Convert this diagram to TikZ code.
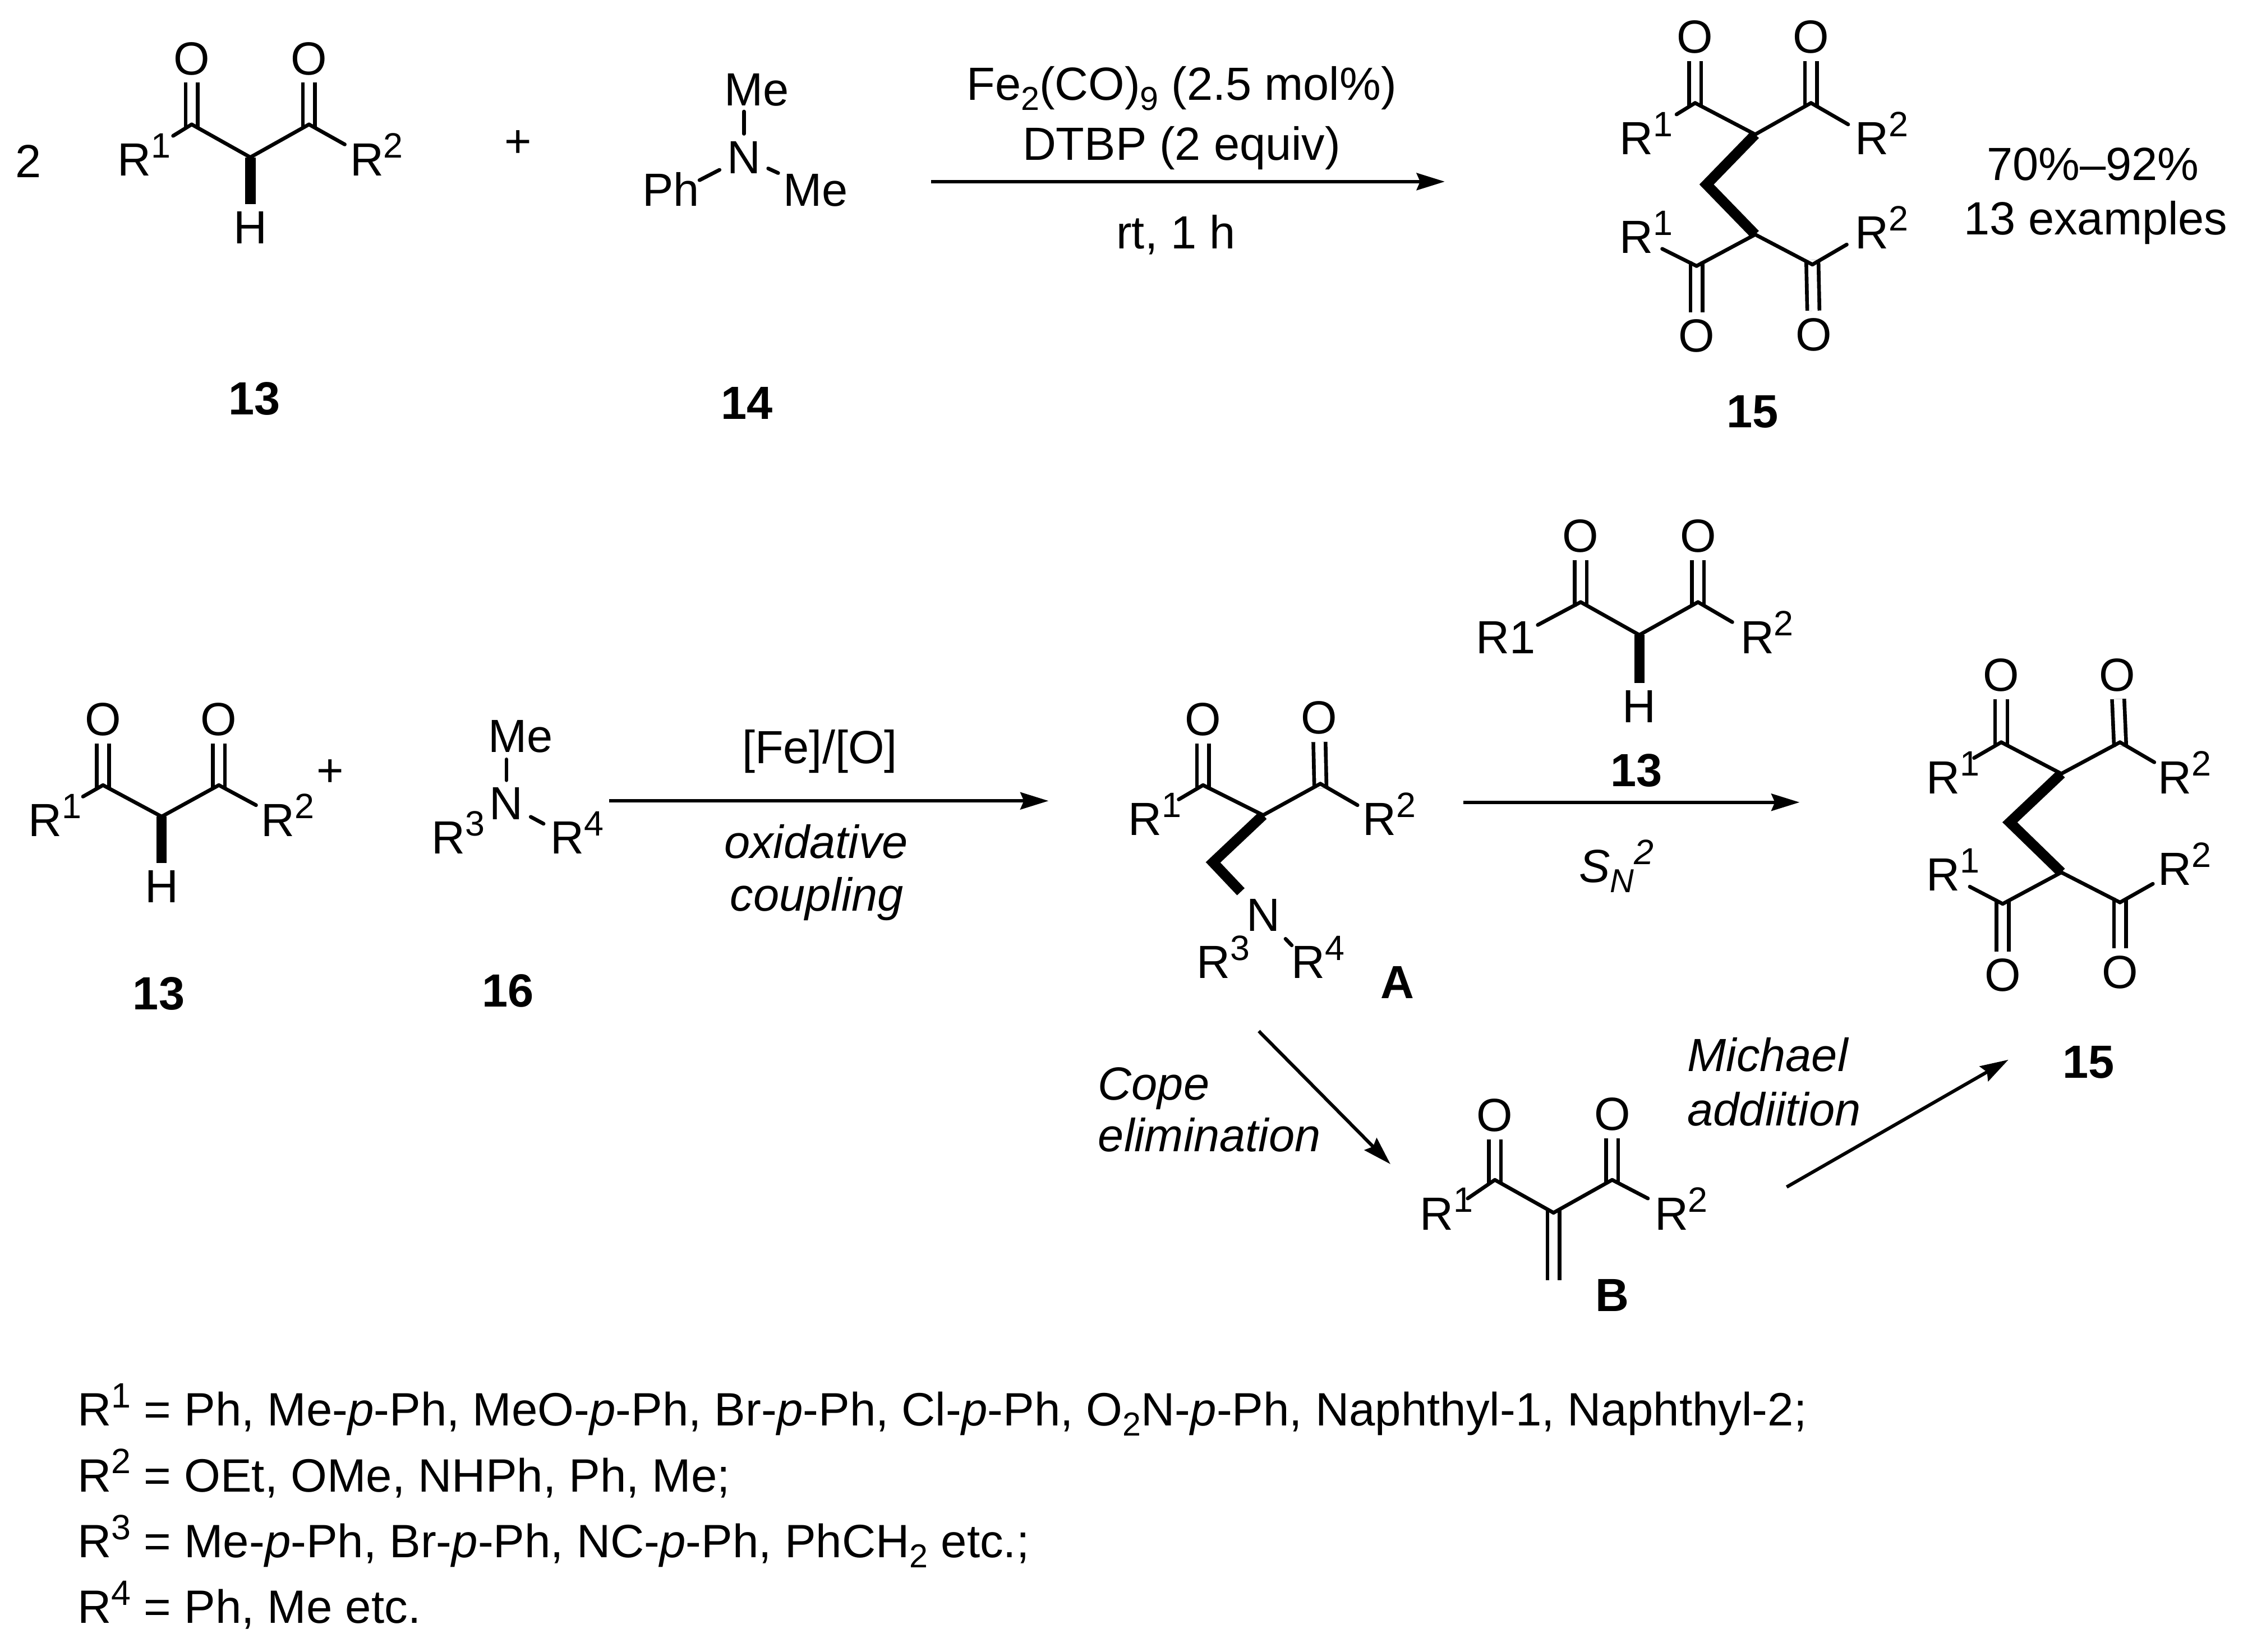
\documentclass[tikz,border=0pt]{standalone}
\usepackage{fontspec}
\setmainfont{Liberation Sans}
\usetikzlibrary{arrows.meta}
\newcommand{\supnum}[1]{\raisebox{3.6pt}{\fontsize{7}{8}\selectfont #1}}
\newcommand{\subnum}[1]{\raisebox{-2pt}{\fontsize{6.6}{8}\selectfont #1}}

\tikzset{
  atom/.style={anchor=center, inner sep=1.3pt},
  rgroup/.style={anchor=base west},
  listline/.style={anchor=base west, font=\fontsize{9.3}{11}\selectfont},
  compnum/.style={font=\fontsize{9.25}{11}\selectfont\bfseries},
  bond/.style={line width=0.74pt, line cap=round},
  dbond/.style={line width=0.74pt, double, double distance=1.68pt, shorten <=-0.9pt},
  boldbond/.style={line width=2.05pt, line join=miter},
  rxnarrow/.style={line width=0.67pt, -{Stealth[length=5.6pt, width=3.4pt, inset=0.7pt]}}
}

\begin{document}
\begin{tikzpicture}[x=0.01cm, y=-0.01cm]
\tikzstyle{every node} = [inner sep=0pt, anchor=base, font=\fontsize{9.25}{11}\selectfont]
\useasboundingbox (0,0) rectangle (1568,1155);

\foreach \nm/\px/\py in {pL/134/87, pM/175/110, pR/216/87, pEL/121/95, pER/241/101,
  bMe/520/78, bPh/489/126, bE/544/121,
  cLa/1185/72, cRa/1266/72, cMa/1227/94, cELa/1172/80, cERa/1292/87, cW/1193/129,
  cMb/1227/164, cLb/1186/186, cRb/1267/185, cELb/1162/174, cERb/1291/171,
  dL/72/549, dM/113/571, dR/153/549, dEL/58/557, dER/179/563,
  eMe/354/531, eE/380/576,
  fL/1105/421, fM/1146/444, fR/1187/421, fEL/1075/437, fER/1211/435,
  gL/841/549, gM/883/570, gR/923/548, gEL/824/559, gER/949/563, gW/848/603, gE/903/661,
  hL/1045/825, hM/1086/848, hR/1127/825, hEL/1026/838, hER/1152/838, hCH/1086/895,
  iLa/1399/519, iRa/1482/519, iMa/1441/541, iELa/1380/530, iERa/1506/533, iW/1405/575,
  iMb/1441/610, iLb/1400/632, iRb/1482/631, iELb/1377/620, iERb/1505/618,
  ar1a/651/127, ar1b/1010/127, ar2a/426/560, ar2b/733/560, ar3a/1023/561, ar3b/1258/561,
  ar4a/880/721, ar4b/972/814, ar5a/1249/830, ar5b/1404/741}
\coordinate(\nm) at (\px,\py);

\foreach \nm/\px/\py in {pOL/134/41, pOR/216/41, cOLa/1185/26, cORa/1266/26, cOLb/1186/235,
  cORb/1268/234, dOL/72/503, dOR/153/503, fOL/1105/375, fOR/1187/375, gOL/841/503,
  gOR/922/502, hOL/1045/780, hOR/1127/779, iOLa/1399/472, iORa/1480/472, iOLb/1400/682,
  iORb/1482/680}
\node[atom](\nm) at (\px,\py) {O};

\foreach \nm/\px/\py in {pH/175/159, dH/113/620, fH/1146/494}
\node[atom](\nm) at (\px,\py) {H};

\foreach \nm/\px/\py in {bN/520/110, eN/354/562, gN/883/640}
\node[atom](\nm) at (\px,\py) {N};

\foreach \nm/\px/\py/\val in {pRL/81.5/123/1, pRR/244/123/2,
  cRLa/1131.5/108/1, cRRa/1296/108/2, cRLb/1131.5/177/1, cRRb/1296/174/2,
  dRL/19/585/1, dRR/182/585/2, eRC/301/597/3, eRD/384/597/4, fRR/1216/457/2,
  gRL/788/584/1, gRR/952/584/2, gRC/836/684/3, gRD/902/684/4,
  hRL/992/860/1, hRR/1156/860/2,
  iRLa/1346/555/1, iRRa/1508/555/2, iRLb/1346/623/1, iRRb/1508/619/2}
\node[rgroup](\nm) at (\px,\py) {R\supnum{\val}};
\node[rgroup](fRL) at (1031,457) {R1};

\foreach \from/\to in {pL/pOL, pR/pOR, cLa/cOLa, cRa/cORa, cLb/cOLb, cRb/cORb, dL/dOL, dR/dOR,
  fL/fOL, fR/fOR, gL/gOL, gR/gOR, hL/hOL, hR/hOR, hM/hCH, iLa/iOLa, iRa/iORa, iLb/iOLb, iRb/iORb}
\draw [dbond] (\from) -- (\to);

\foreach \from/\to in {pL/pM, pM/pR, pL/pEL, pR/pER, bN/bMe, bN/bPh, bN/bE,
  cLa/cMa, cMa/cRa, cLa/cELa, cRa/cERa, cLb/cMb, cMb/cRb, cLb/cELb, cRb/cERb,
  dL/dM, dM/dR, dL/dEL, dR/dER, eN/eMe, eN/eE,
  fL/fM, fM/fR, fL/fEL, fR/fER,
  gL/gM, gM/gR, gL/gEL, gR/gER, gN/gE,
  hL/hM, hM/hR, hL/hEL, hR/hER,
  iLa/iMa, iMa/iRa, iLa/iELa, iRa/iERa, iLb/iMb, iMb/iRb, iLb/iELb, iRb/iERb}
\draw [bond] (\from) -- (\to);

\foreach \from/\to in {pM/pH, dM/dH, fM/fH}
\draw [boldbond] (\from) -- (\to);
\foreach \from/\via/\to in {cMa/cW/cMb, gM/gW/gN, iMa/iW/iMb}
\draw [boldbond] (\from) -- (\via) -- (\to);

\foreach \from/\to in {ar1a/ar1b, ar2a/ar2b, ar3a/ar3b, ar4a/ar4b, ar5a/ar5b}
\draw [rxnarrow] (\from) -- (\to);

\node(two) at (20,124) {2};
\node(plusA) at (362,110) {+};
\node(plusB) at (231,550) {+};
\node(bMeT) at (529,74) {Me};
\node(bPhT) at (469,144) {Ph};
\node(bMeR) at (570,144) {Me};
\node(eMeT) at (364,526) {Me};

\node[compnum](numA) at (178,290) {13};
\node[compnum](numB) at (522,293) {14};
\node[compnum](numC) at (1225,299) {15};
\node[compnum](numD) at (111,706) {13};
\node[compnum](numE) at (355,704) {16};
\node[compnum](numF) at (1144,550) {13};
\node[compnum](numG) at (977,698) {A};
\node[compnum](numH) at (1127,917) {B};
\node[compnum](numI) at (1460,754) {15};

\node(condA) at (826,70) {Fe\subnum{2}(CO)\subnum{9} (2.5 mol\%)};
\node(condB) at (826,112) {DTBP (2 equiv)};
\node(condC) at (822,174) {rt, 1 h};
\node(yield) at (1463,126) {70\%–92\%};
\node(scope) at (1465,164) {13 examples};
\node(feox) at (573,534) {[Fe]/[O]};
\node(oxid) at (570.5,600) {\textit{oxidative}};
\node(coup) at (571,637) {\textit{coupling}};
\node(snt) at (1130,617) {\textit{S\subnum{N}\supnum{2}}};
\node[rgroup](copeA) at (767,769) {\textit{Cope}};
\node[rgroup](copeB) at (767,805) {\textit{elimination}};
\node[rgroup](micA) at (1179,749) {\textit{Michael}};
\node[rgroup](micB) at (1179,787) {\textit{addiition}};

\node[listline](listA) at (53.5,997) {R\supnum{1} = Ph, Me-\textit{p}-Ph, MeO-\textit{p}-Ph, Br-\textit{p}-Ph, Cl-\textit{p}-Ph, O\subnum{2}N-\textit{p}-Ph, Naphthyl-1, Naphthyl-2;};
\node[listline](listB) at (53.5,1043) {R\supnum{2} = OEt, OMe, NHPh, Ph, Me;};
\node[listline](listC) at (53.5,1089) {R\supnum{3} = Me-\textit{p}-Ph, Br-\textit{p}-Ph, NC-\textit{p}-Ph, PhCH\subnum{2} etc.;};
\node[listline](listD) at (53.5,1135) {R\supnum{4} = Ph, Me etc.};
\end{tikzpicture}
\end{document}
